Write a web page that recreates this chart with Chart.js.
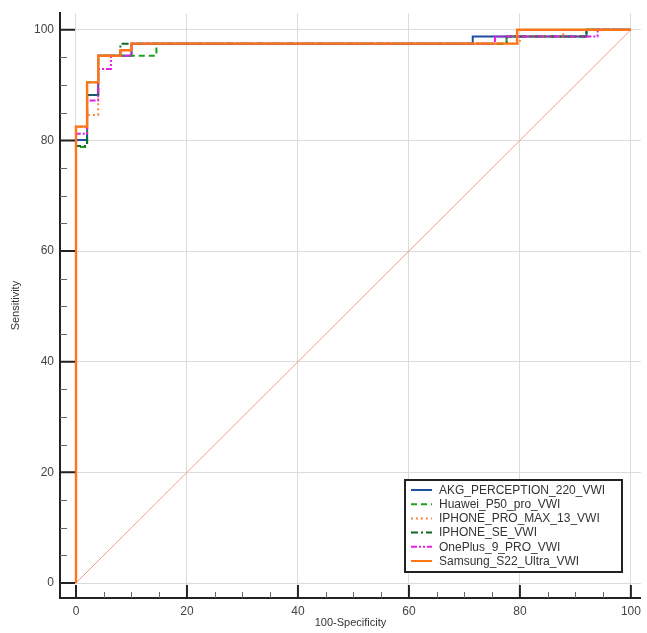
<!DOCTYPE html>
<html>
<head>
<meta charset="utf-8">
<script src="https://cdn.jsdelivr.net/npm/chart.js@4"></script>
<style>
  html, body { margin: 0; padding: 0; background: #fff; }
  #wrap { width: 647px; height: 633px; position: relative; }
</style>
</head>
<body>
<div id="wrap"><canvas id="roc"></canvas></div>
<script>
// ROC operating points (100-Specificity, Sensitivity)
const akgX = [0, 0, 2, 4, 10, 71.5, 92, 100];
const akgY = [0, 80.1, 88.2, 95.3, 97.5, 98.8, 100, 100];

const huaweiX = [0, 0, 2, 4, 14.5, 77.6, 92, 100];
const huaweiY = [0, 78.8, 90.5, 95.3, 97.5, 98.8, 100, 100];

const proMaxX = [0, 0, 2, 4, 8, 10, 80, 87.8, 100];
const proMaxY = [0, 82.5, 84.6, 95.3, 96.3, 97.5, 98.8, 100, 100];

const seX = [0, 0, 2, 4, 8, 77.6, 92, 100];
const seY = [0, 79, 88.2, 95.3, 97.5, 98.8, 100, 100];

const onePlusX = [0, 0, 2, 4, 6.3, 10, 75.5, 94, 100];
const onePlusY = [0, 81.2, 87.2, 92.9, 95.3, 97.5, 98.8, 100, 100];

const samsungX = [0, 0, 2, 4, 8, 10, 79.5, 100];
const samsungY = [0, 82.5, 90.5, 95.3, 96.3, 97.5, 100, 100];

const seriesNames = [
  "AKG_PERCEPTION_220_VWI",
  "Huawei_P50_pro_VWI",
  "IPHONE_PRO_MAX_13_VWI",
  "IPHONE_SE_VWI",
  "OnePlus_9_PRO_VWI",
  "Samsung_S22_Ultra_VWI",
];

const majorTicks = [0, 20, 40, 60, 80, 100];
const minorTicks = [5, 10, 15, 25, 30, 35, 45, 50, 55, 65, 70, 75, 85, 90, 95];

const toPoints = (xs, ys) => xs.map((x, i) => ({ x: x, y: ys[i] }));

// 樣式
const styles = [
  { color: "#1f4fa0", dash: [], width: 2 },
  { color: "#1ea01e", dash: [6, 4], width: 2 },
  { color: "#ff8a3c", dash: [2, 3], width: 2 },
  { color: "#0d6b25", dash: [7, 3, 2, 3], width: 2 },
  { color: "#e41ee4", dash: [6, 2, 2, 2, 2, 2], width: 2 },
  { color: "#ff7518", dash: [], width: 2.4 },
];

const seriesData = [
  toPoints(akgX, akgY),
  toPoints(huaweiX, huaweiY),
  toPoints(proMaxX, proMaxY),
  toPoints(seX, seY),
  toPoints(onePlusX, onePlusY),
  toPoints(samsungX, samsungY),
];

const datasets = seriesData.map((d, i) => ({
  label: seriesNames[i],
  data: d,
  borderColor: styles[i].color,
  borderDash: styles[i].dash,
  borderWidth: styles[i].width,
  // 先水平再垂直
  stepped: "before",
  pointRadius: 0,
  fill: false,
  // Samsung 畫在最上層
  order: i === 5 ? 0 : 10 - i,
}));

// 對角參考線
datasets.push({
  label: "ref",
  data: [{ x: 0, y: 0 }, { x: 100, y: 100 }],
  borderColor: "#f2a088",
  borderWidth: 1,
  pointRadius: 0,
  fill: false,
  order: 20,
});

// 軸內側刻度
const innerTicksPlugin = {
  id: "innerTicks",
  afterDatasetsDraw: (chart) => {
    const { ctx, chartArea: { left, bottom }, scales: { x, y } } = chart;
    ctx.save();
    ctx.strokeStyle = "#222";
    ctx.beginPath();
    ctx.lineWidth = 2;
    majorTicks.forEach((v) => {
      const px = x.getPixelForValue(v);
      ctx.moveTo(px, bottom);
      ctx.lineTo(px, bottom - 13);
      const py = y.getPixelForValue(v);
      ctx.moveTo(left, py);
      ctx.lineTo(left + 15, py);
    });
    ctx.stroke();
    ctx.beginPath();
    ctx.lineWidth = 1;
    ctx.strokeStyle = "#666";
    minorTicks.forEach((v) => {
      const px = Math.round(x.getPixelForValue(v)) + 0.5;
      ctx.moveTo(px, bottom);
      ctx.lineTo(px, bottom - 6);
      const py = Math.round(y.getPixelForValue(v)) + 0.5;
      ctx.moveTo(left, py);
      ctx.lineTo(left + 7, py);
    });
    ctx.stroke();
    ctx.restore();
  },
};

// 圖例方框
const boxLegendPlugin = {
  id: "boxLegend",
  afterDraw: (chart) => {
    const { ctx } = chart;
    const bx = 405, by = 480, bw = 217, bh = 92;
    ctx.save();
    ctx.fillStyle = "#fff";
    ctx.fillRect(bx, by, bw, bh);
    ctx.strokeStyle = "#222";
    ctx.lineWidth = 2;
    ctx.strokeRect(bx, by, bw, bh);
    ctx.font = "12px 'Liberation Sans', Arial, sans-serif";
    ctx.textBaseline = "middle";
    ctx.textAlign = "left";
    seriesNames.forEach((name, i) => {
      const cy = by + 10 + i * 14.2;
      ctx.beginPath();
      ctx.strokeStyle = styles[i].color;
      ctx.lineWidth = 2;
      ctx.setLineDash(styles[i].dash);
      ctx.moveTo(bx + 6, cy);
      ctx.lineTo(bx + 27, cy);
      ctx.stroke();
      ctx.setLineDash([]);
      ctx.fillStyle = "#333";
      ctx.fillText(name, bx + 34, cy + 0.5);
    });
    ctx.restore();
  },
};

const axisFont = { family: "'Liberation Sans', Arial, sans-serif", size: 12 };

new Chart(document.getElementById("roc"), {
  type: "line",
  data: { datasets: datasets },
  options: {
    maintainAspectRatio: false,
    responsive: true,
    animation: false,
    layout: { padding: { left: 0, right: 6, top: 12, bottom: 0 } },
    plugins: {
      legend: { display: false },
      tooltip: { enabled: false },
    },
    scales: {
      x: {
        type: "linear",
        min: -2.88,
        max: 101.8,
        afterFit: (scale) => { scale.height = 35; },
        afterBuildTicks: (scale) => { scale.ticks = majorTicks.map((v) => ({ value: v })); },
        grid: { color: "#dcdcdc", lineWidth: 1, drawTicks: false },
        border: { display: true, color: "#222", width: 2 },
        ticks: { color: "#444", font: axisFont, padding: 6, maxRotation: 0 },
        title: {
          display: true,
          text: "100-Specificity",
          color: "#333",
          font: { family: "'Liberation Sans', Arial, sans-serif", size: 11 },
          padding: { top: 0, bottom: 3 },
        },
      },
      y: {
        type: "linear",
        min: -2.71,
        max: 103,
        afterFit: (scale) => { scale.width = 60; },
        afterBuildTicks: (scale) => { scale.ticks = majorTicks.map((v) => ({ value: v })); },
        grid: { color: "#dcdcdc", lineWidth: 1, drawTicks: false },
        border: { display: true, color: "#222", width: 2 },
        ticks: { color: "#444", font: axisFont, padding: 6 },
        title: {
          display: true,
          text: "Sensitivity",
          color: "#333",
          font: { family: "'Liberation Sans', Arial, sans-serif", size: 11 },
          padding: { top: 9, bottom: 0 },
        },
      },
    },
  },
  plugins: [innerTicksPlugin, boxLegendPlugin],
});
</script>
</body>
</html>
